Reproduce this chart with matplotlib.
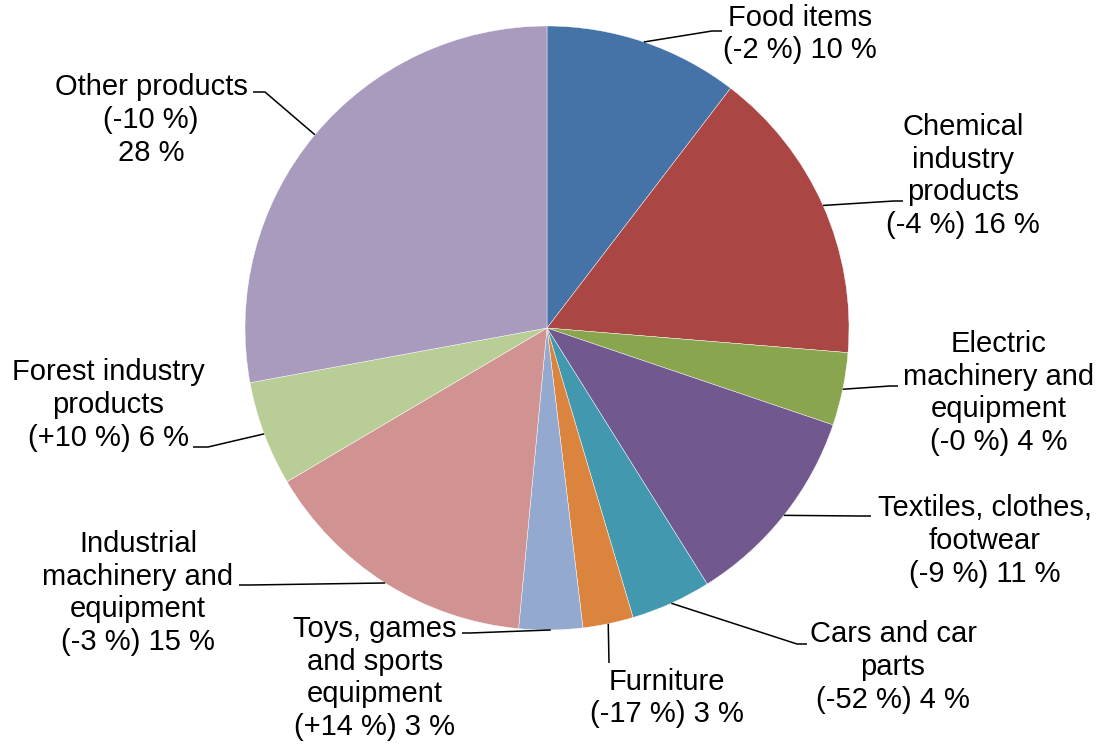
import numpy as np
import matplotlib.pyplot as plt

plt.rcParams['font.family'] = ['Liberation Sans', 'DejaVu Sans']

# slice shares (percent), clockwise from 12 o'clock
categories = ['Food items', 'Chemical industry products', 'Electric machinery and equipment',
              'Textiles, clothes, footwear', 'Cars and car parts', 'Furniture',
              'Toys, games and sports equipment', 'Industrial machinery and equipment',
              'Forest industry products', 'Other products']
shares = [10.4, 15.9, 3.9, 10.9, 4.3, 2.7, 3.4, 15.0, 5.6, 27.9]
changes = ['-2', '-4', '-0', '-9', '-52', '-17', '+14', '-3', '+10', '-10']
shown = [10, 16, 4, 11, 4, 3, 3, 15, 6, 28]

# line breaks of each label as in the original
label_fmt = [
    'Food items\n({c} %) {s} %',
    'Chemical\nindustry\nproducts\n({c} %) {s} %',
    'Electric\nmachinery and\nequipment\n({c} %) {s} %',
    'Textiles, clothes,\nfootwear\n({c} %) {s} %',
    'Cars and car\nparts\n({c} %) {s} %',
    'Furniture\n({c} %) {s} %',
    'Toys, games\nand sports\nequipment\n({c} %) {s} %',
    'Industrial\nmachinery and\nequipment\n({c} %) {s} %',
    'Forest industry\nproducts\n({c} %) {s} %',
    'Other products\n({c} %)\n{s} %',
]
colors = ['#4572A7', '#AA4643', '#89A54E', '#71588F', '#4198AF',
          '#DB843D', '#93A9CF', '#D19392', '#B9CD96', '#A99BBD']

W, H = 1099, 747

# layout in pixel coords (y downwards): label centre, leader elbow, leader end
label_pos = [(800, 34), (963, 176), (999, 393), (985, 541), (893, 667),
             (667, 698), (375, 678), (138, 593), (108, 405), (151, 120)]
elbows = [(712, 31), (894, 201), (890, 386), (860, 516), (797, 644),
          (609, 663), (470, 633), (250, 585), (208, 447), (265, 92)]
ends = [(722, 31), (903, 201), (898, 386), (871, 516), (807, 644),
        (609, 663), (462, 633), (239, 585), (193, 447), (253, 92)]


def fy(y):
    return H - y


fig = plt.figure(figsize=(W / 100, H / 100), dpi=100)
ax = fig.add_axes([0, 0, 1, 1])

wedges, _ = ax.pie(shares, colors=colors, startangle=90, counterclock=False,
                   center=(547, fy(328)), radius=302,
                   wedgeprops=dict(edgecolor='white', linewidth=0.3))
# pie() resets the limits, so set them afterwards
ax.set_xlim(0, W)
ax.set_ylim(0, H)
ax.set_aspect('equal')
ax.axis('off')

for i, w in enumerate(wedges):
    mid = np.deg2rad((w.theta1 + w.theta2) / 2)
    cx, cy = w.center
    sx = cx + w.r * np.cos(mid)
    sy = cy + w.r * np.sin(mid)
    ex, ey = elbows[i]
    hx, hy = ends[i]
    ax.plot([sx, ex, hx], [sy, fy(ey), fy(hy)], color='black', lw=1.1,
            solid_capstyle='butt')
    txt = label_fmt[i].format(c=changes[i], s=shown[i])
    lx, ly = label_pos[i]
    ax.text(lx, fy(ly), txt, ha='center', va='center', multialignment='center',
            fontsize=21, linespacing=1.21, color='black')

fig.savefig('out.png', dpi=100, facecolor='white')
